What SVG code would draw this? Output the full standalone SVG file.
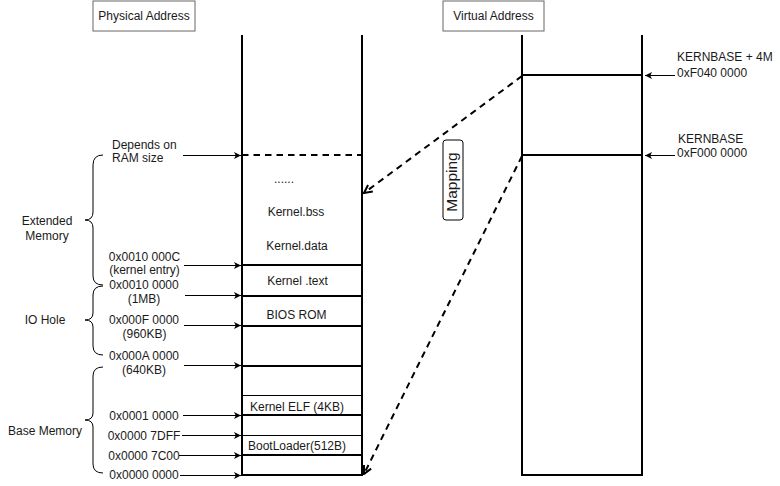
<svg xmlns="http://www.w3.org/2000/svg" width="780" height="486" viewBox="0 0 780 486">
<style>
text{font-family:"Liberation Sans",Arial,sans-serif;font-size:12px;fill:#1a1a1a}
.c{text-anchor:middle}
.col{stroke:#000;stroke-width:2;fill:none}
.thin{stroke:#000;stroke-width:1;fill:none}
.arr{stroke:#000;stroke-width:1;fill:none;marker-end:url(#ah)}
.dash{stroke:#000;stroke-width:2;fill:none;stroke-dasharray:6.5 5}
.br{stroke:#000;stroke-width:1;fill:none}
</style>
<defs>
<marker id="ah" viewBox="0 0 10 10" refX="10" refY="5" markerWidth="8" markerHeight="7" markerUnits="userSpaceOnUse" orient="auto">
<path d="M0,0 L10,5 L0,10 L2.5,5 z" fill="#000"/>
</marker>
<marker id="ad" viewBox="0 0 10 10" refX="9" refY="5" markerWidth="11" markerHeight="10" markerUnits="userSpaceOnUse" orient="auto">
<path d="M1,1 L9,5 L1,9" fill="none" stroke="#000" stroke-width="2"/>
</marker>
</defs>

<g id="title-physical">
<rect x="93" y="1" width="102" height="30" fill="#fff" stroke="#000" stroke-width="1" stroke-opacity="0.6"/>
<text class="c" x="144" y="20">Physical Address</text>
</g>
<g id="title-virtual">
<rect x="443" y="1" width="101" height="30" fill="#fff" stroke="#000" stroke-width="1" stroke-opacity="0.6"/>
<text class="c" x="493.5" y="20">Virtual Address</text>
</g>

<g id="physical-column">
<line class="col" x1="242" y1="35" x2="242" y2="476"/>
<line class="col" x1="362" y1="35" x2="362" y2="476"/>
<line class="col" x1="242" y1="155" x2="362" y2="155" stroke-dasharray="6.5 5"/>
<line class="col" x1="242" y1="265" x2="362" y2="265"/>
<line class="col" x1="242" y1="296" x2="362" y2="296"/>
<line class="col" x1="242" y1="326" x2="362" y2="326"/>
<line class="col" x1="242" y1="366" x2="362" y2="366"/>
<line class="thin" x1="242" y1="395.5" x2="362" y2="395.5"/>
<line class="col" x1="242" y1="415" x2="362" y2="415"/>
<line class="thin" x1="242" y1="435.5" x2="362" y2="435.5"/>
<line class="col" x1="242" y1="455" x2="362" y2="455"/>
<line class="col" x1="241" y1="475" x2="363" y2="475"/>
<text class="c" x="284" y="183">......</text>
<text class="c" x="296" y="216">Kernel.bss</text>
<text class="c" x="297" y="250">Kernel.data</text>
<text class="c" x="297.5" y="285">Kernel .text</text>
<text class="c" x="296.5" y="319">BIOS ROM</text>
<text class="c" x="297" y="411">Kernel ELF (4KB)</text>
<text class="c" x="297" y="450">BootLoader(512B)</text>
</g>

<g id="virtual-column">
<line class="col" x1="522" y1="35" x2="522" y2="476"/>
<line class="col" x1="642" y1="35" x2="642" y2="476"/>
<line class="col" x1="522" y1="75" x2="642" y2="75"/>
<line class="col" x1="522" y1="155" x2="642" y2="155"/>
<line class="col" x1="521" y1="475" x2="643" y2="475"/>
</g>

<g id="brace-extended">
<path class="br" d="M103,155 Q93,155 93,165 L93,212 Q93,220 85,220 Q93,220 93,228 L93,276 Q93,285 103,285"/>
<text class="c" x="47" y="225">Extended</text>
<text class="c" x="47" y="240">Memory</text>
</g>
<g id="brace-io">
<path class="br" d="M103,286 Q93,286 93,295 L93,313 Q93,320 85,320 Q93,320 93,327 L93,346 Q93,355 103,355"/>
<text class="c" x="45" y="324">IO Hole</text>
</g>
<g id="brace-base">
<path class="br" d="M103,367 Q93,367 93,376 L93,413 Q93,420 85,420 Q93,420 93,427 L93,464 Q93,473 103,473"/>
<text class="c" x="45" y="435">Base Memory</text>
</g>

<g id="labels-left">
<text x="112" y="148.5">Depends on</text>
<text x="112" y="162">RAM size</text>
<text class="c" x="144.5" y="260.5">0x0010 000C</text>
<text class="c" x="144.5" y="274">(kernel entry)</text>
<text class="c" x="144" y="289">0x0010 0000</text>
<text class="c" x="144" y="302.5">(1MB)</text>
<text class="c" x="144" y="324">0x000F 0000</text>
<text class="c" x="144.5" y="337.5">(960KB)</text>
<text class="c" x="144" y="360">0x000A 0000</text>
<text class="c" x="144" y="373.5">(640KB)</text>
<text class="c" x="144" y="420">0x0001 0000</text>
<text class="c" x="144" y="440">0x0000 7DFF</text>
<text class="c" x="144" y="459.5">0x0000 7C00</text>
<text class="c" x="144" y="479">0x0000 0000</text>
</g>

<g id="labels-right">
<text x="677" y="61">KERNBASE + 4M</text>
<text x="677" y="76.5">0xF040 0000</text>
<text x="678" y="142.5">KERNBASE</text>
<text x="677" y="156.5">0xF000 0000</text>
</g>

<g id="mapping">
<rect x="443" y="140" width="20" height="80" rx="3" fill="#fff" stroke="#000" stroke-width="1"/>
<text class="c" x="453" y="186" font-size="15.5" style="font-size:15.5px" transform="rotate(-90 453 182)">Mapping</text>
</g>

<g id="connectors">
<line class="arr" x1="183" y1="155.5" x2="241" y2="155.5"/>
<line class="arr" x1="184" y1="265.5" x2="241" y2="265.5"/>
<line class="arr" x1="185" y1="295.5" x2="241" y2="295.5"/>
<line class="arr" x1="184" y1="325.5" x2="241" y2="325.5"/>
<line class="arr" x1="184" y1="365.5" x2="241" y2="365.5"/>
<line class="arr" x1="183" y1="415.5" x2="241" y2="415.5"/>
<line class="arr" x1="182" y1="435.5" x2="241" y2="435.5"/>
<line class="arr" x1="179" y1="455.5" x2="241" y2="455.5"/>
<line class="arr" x1="180" y1="475.5" x2="241" y2="475.5"/>
<line class="arr" x1="675" y1="75.5" x2="645" y2="75.5"/>
<line class="arr" x1="675" y1="155.5" x2="645" y2="155.5"/>
<line class="dash" x1="522" y1="76" x2="364" y2="193" marker-end="url(#ad)"/>
<line class="dash" x1="522" y1="156" x2="364" y2="474" marker-end="url(#ad)"/>
</g>
</svg>
